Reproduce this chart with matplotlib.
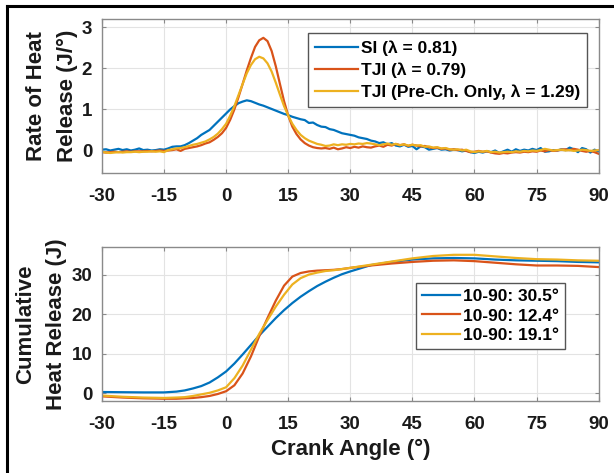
import numpy as np
import matplotlib
matplotlib.use("Agg")
import matplotlib.pyplot as plt
from matplotlib.lines import Line2D

plt.rcParams['font.family'] = ['Liberation Sans', 'DejaVu Sans']
plt.rcParams['font.weight'] = 'bold'
plt.rcParams['axes.unicode_minus'] = False

# MATLAB default colour order
c_si = '#0072BD'
c_tji = '#D95319'
c_pre = '#EDB120'

# rate of heat release, 1 deg resolution from -30 to 90 CAD
rohr_angle = list(range(-30, 91))

rohr_si = [
    0.02, 0.03, 0.00, 0.02, 0.04, 0.01, 0.03, 0.00, 0.02, 0.05,
    0.01, 0.02, 0.00, 0.01, 0.03, 0.02, 0.05, 0.09, 0.10, 0.10,
    0.13, 0.18, 0.24, 0.30, 0.38, 0.44, 0.50, 0.60, 0.70, 0.80,
    0.90, 1.00, 1.08, 1.15, 1.19, 1.22, 1.20, 1.16, 1.12, 1.09,
    1.05, 1.01, 0.97, 0.93, 0.89, 0.86, 0.82, 0.79, 0.76, 0.74,
    0.67, 0.68, 0.62, 0.58, 0.57, 0.52, 0.50, 0.46, 0.42, 0.40,
    0.38, 0.36, 0.32, 0.30, 0.28, 0.24, 0.22, 0.18, 0.20, 0.15,
    0.18, 0.12, 0.10, 0.14, 0.09, 0.11, 0.03, 0.10, 0.08, 0.02,
    0.04, 0.06, 0.02, 0.03, 0.00, 0.02, 0.01, -0.02, 0.00, -0.04,
    -0.06, -0.03, -0.05, -0.02, -0.04, 0.00, -0.06, -0.02, 0.02, -0.03,
    0.03, -0.01, 0.02, 0.00, 0.04, 0.01, 0.06, -0.03, -0.02, 0.01,
    0.00, 0.03, 0.01, 0.07, 0.03, -0.04, 0.06, 0.03, -0.05, 0.02,
    -0.02]

rohr_tji = [
    -0.04, -0.05, -0.04, -0.03, -0.04, -0.03, -0.02, -0.03, -0.02, -0.02,
    -0.02, -0.01, -0.02, -0.01, 0.00, -0.01, 0.00, 0.01, 0.03, -0.01,
    0.04, 0.06, 0.08, 0.10, 0.13, 0.17, 0.20, 0.26, 0.33, 0.42,
    0.55, 0.75, 1.00, 1.30, 1.62, 1.95, 2.25, 2.52, 2.68, 2.74,
    2.66, 2.42, 2.05, 1.62, 1.20, 0.85, 0.58, 0.40, 0.27, 0.18,
    0.12, 0.08, 0.06, 0.05, 0.06, 0.04, 0.07, 0.03, 0.05, 0.08,
    0.06, 0.09, 0.07, 0.10, 0.08, 0.07, 0.10, 0.12, 0.09, 0.14,
    0.12, 0.16, 0.13, 0.15, 0.11, 0.14, 0.12, 0.10, 0.11, 0.08,
    0.06, 0.07, 0.04, 0.05, 0.02, 0.03, 0.01, 0.02, -0.01, -0.04,
    -0.03, -0.01, -0.03, -0.02, -0.05, -0.07, -0.08, -0.06, -0.07, -0.05,
    -0.04, -0.05, -0.03, -0.04, -0.02, -0.03, 0.00, -0.02, 0.01, -0.01,
    0.00, 0.02, 0.03, 0.01, 0.04, 0.02, -0.01, -0.03, -0.01, -0.04,
    -0.08]

rohr_pre = [
    -0.03, -0.05, -0.06, -0.05, -0.04, -0.05, -0.04, -0.04, -0.03, -0.04,
    -0.03, -0.03, -0.02, -0.03, -0.02, -0.04, 0.01, 0.03, 0.05, 0.06,
    0.08, 0.11, 0.14, 0.16, 0.19, 0.22, 0.27, 0.33, 0.41, 0.52,
    0.65, 0.85, 1.08, 1.35, 1.62, 1.88, 2.08, 2.22, 2.28, 2.24,
    2.12, 1.92, 1.65, 1.36, 1.08, 0.85, 0.65, 0.50, 0.38, 0.30,
    0.24, 0.20, 0.16, 0.14, 0.11, 0.12, 0.15, 0.13, 0.15, 0.14,
    0.16, 0.15, 0.17, 0.16, 0.18, 0.17, 0.15, 0.13, 0.15, 0.17,
    0.14, 0.16, 0.13, 0.15, 0.12, 0.14, 0.12, 0.13, 0.09, 0.10,
    0.07, 0.08, 0.05, 0.06, 0.03, 0.02, 0.03, 0.00, 0.02, -0.02,
    -0.04, -0.02, -0.03, -0.01, -0.04, -0.03, -0.05, -0.04, -0.03, -0.04,
    -0.02, -0.03, -0.01, -0.02, 0.00, -0.01, 0.01, 0.04, 0.02, 0.00,
    0.01, 0.02, 0.00, 0.01, -0.01, 0.00, 0.02, 0.01, -0.01, 0.00,
    0.01]

# cumulative heat release (J)
chr_angle = [-30, -25, -20, -15, -12, -10, -8, -6, -4, -2,
             0, 2, 4, 6, 8, 10, 12, 14, 16, 18,
             20, 22, 24, 26, 28, 30, 35, 40, 45, 50,
             55, 60, 65, 70, 75, 80, 85, 90]

chr_si = [0.3, 0.25, 0.2, 0.2, 0.4, 0.7, 1.2, 1.8, 2.7, 4.0,
          5.5, 7.5, 9.8, 12.2, 14.6, 16.8, 19.0, 21.0, 22.8, 24.4,
          25.8, 27.1, 28.2, 29.2, 30.1, 30.8, 32.4, 33.2, 33.8, 34.1,
          34.2, 34.1, 33.8, 33.6, 33.5, 33.4, 33.2, 33.1]

chr_tji = [-0.8, -1.1, -1.3, -1.4, -1.4, -1.3, -1.2, -1.0, -0.7, -0.2,
           0.5, 2.0, 5.0, 9.3, 14.4, 19.0, 23.4, 27.2, 29.5, 30.4,
           30.8, 31.0, 31.1, 31.2, 31.4, 31.7, 32.3, 32.8, 33.2, 33.5,
           33.6, 33.4, 33.0, 32.6, 32.3, 32.3, 32.2, 31.9]

chr_pre = [-0.6, -0.9, -1.1, -1.2, -1.1, -1.0, -0.7, -0.3, 0.1, 0.7,
           1.5, 3.8, 7.0, 11.0, 15.0, 18.5, 21.9, 24.9, 27.5, 29.1,
           30.0, 30.5, 30.9, 31.1, 31.4, 31.7, 32.5, 33.3, 34.1, 34.7,
           35.0, 35.0, 34.6, 34.2, 33.9, 33.8, 33.6, 33.5]

rohr_labels = ['SI (λ = 0.81)', 'TJI (λ = 0.79)', 'TJI (Pre-Ch. Only, λ = 1.29)']
chr_labels = ['10-90: 30.5°', '10-90: 12.4°', '10-90: 19.1°']
xticks = [-30, -15, 0, 15, 30, 45, 60, 75, 90]

fig = plt.figure(figsize=(6.14, 4.73), dpi=100)
ax1 = fig.add_axes([0.166, 0.634, 0.809, 0.326])
ax2 = fig.add_axes([0.166, 0.152, 0.809, 0.326])


def style_axes(ax):
    ax.set_xlim(-30, 90)
    ax.set_xticks(xticks)
    ax.grid(True, color='#e3e3e3', linewidth=0.8)
    ax.set_axisbelow(True)
    for s in ax.spines.values():
        s.set_color('#8a8a8a')
        s.set_linewidth(1.0)
    ax.tick_params(direction='in', length=3, width=0.8, color='#8a8a8a',
                   top=True, right=True, labelsize=13.5)
    ax.tick_params(axis='x', pad=11)
    ax.tick_params(axis='y', pad=7)
    for lbl in ax.get_xticklabels() + ax.get_yticklabels():
        lbl.set_fontweight('bold')
        lbl.set_color('#1a1a1a')


lw = 1.6
ax1.plot(rohr_angle, rohr_si, color=c_si, lw=lw, label=rohr_labels[0])
ax1.plot(rohr_angle, rohr_tji, color=c_tji, lw=lw, label=rohr_labels[1])
ax1.plot(rohr_angle, rohr_pre, color=c_pre, lw=lw, label=rohr_labels[2])
ax1.set_ylim(-0.55, 3.2)
ax1.set_yticks([0, 1, 2, 3])
style_axes(ax1)

ax2.plot(chr_angle, chr_si, color=c_si, lw=lw, label=chr_labels[0])
ax2.plot(chr_angle, chr_tji, color=c_tji, lw=lw, label=chr_labels[1])
ax2.plot(chr_angle, chr_pre, color=c_pre, lw=lw, label=chr_labels[2])
ax2.set_ylim(-2, 37)
ax2.set_yticks([0, 10, 20, 30])
style_axes(ax2)

leg1 = ax1.legend(loc='upper right', bbox_to_anchor=(0.956, 0.930),
                  bbox_transform=fig.transFigure, borderaxespad=0,
                  prop={'size': 12.5, 'weight': 'bold'}, fancybox=False,
                  framealpha=1, edgecolor='#555555', handlelength=2.5,
                  handletextpad=0.15, labelspacing=0.38, borderpad=0.4)
leg1.get_frame().set_linewidth(1.0)

leg2 = ax2.legend(loc='upper right', bbox_to_anchor=(0.920, 0.402),
                  bbox_transform=fig.transFigure, borderaxespad=0,
                  prop={'size': 12.5, 'weight': 'bold'}, fancybox=False,
                  framealpha=1, edgecolor='#555555', handlelength=2.2,
                  handletextpad=0.15, labelspacing=0.25, borderpad=0.35)
leg2.get_frame().set_linewidth(1.0)

fig.text(0.085, 0.797, 'Rate of Heat\nRelease (J/°)', rotation=90,
         ha='center', va='center', multialignment='center',
         fontsize=16, fontweight='bold', color='#1a1a1a', linespacing=1.6)
fig.text(0.067, 0.315, 'Cumulative\nHeat Release (J)', rotation=90,
         ha='center', va='center', multialignment='center',
         fontsize=16, fontweight='bold', color='#1a1a1a', linespacing=1.6)
fig.text(0.571, 0.049, 'Crank Angle (°)', ha='center', va='center',
         fontsize=16, fontweight='bold', color='#1a1a1a')

# black frame on the left and top edges
fig.add_artist(Line2D([7 / 614, 7 / 614], [0, 1 - 6 / 473],
                      transform=fig.transFigure, color='black', lw=2.2))
fig.add_artist(Line2D([7 / 614, 1], [1 - 6 / 473, 1 - 6 / 473],
                      transform=fig.transFigure, color='black', lw=2.2))

fig.savefig('out.png', dpi=100)
